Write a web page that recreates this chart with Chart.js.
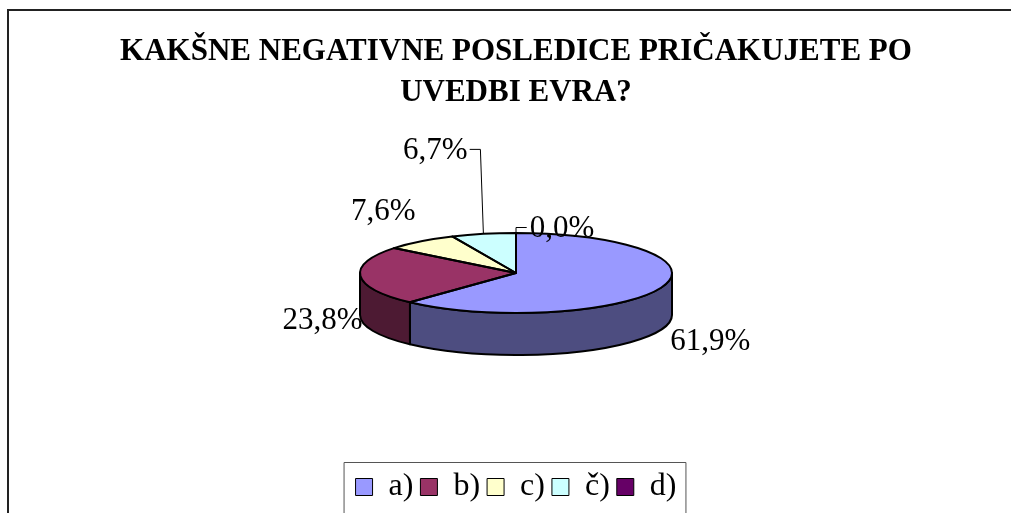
<!DOCTYPE html>
<html>
<head>
<meta charset="utf-8">
<script src="https://cdn.jsdelivr.net/npm/chart.js@4"></script>
<style>
  html, body { margin: 0; padding: 0; background: #fff; }
  canvas { display: block; }
</style>
</head>
<body>
<canvas id="myChart" width="1011" height="513"></canvas>
<script>
// Chart data
const titleLines = ['KAKŠNE NEGATIVNE POSLEDICE PRIČAKUJETE PO', 'UVEDBI EVRA?'];
const categories = ['a)', 'b)', 'c)', 'č)', 'd)'];
const shares = [61.9, 23.8, 7.6, 6.7, 0.0];
const topColors = ['#9999FF', '#993366', '#FFFFCC', '#CCFFFF', '#660066'];
const sideColors = ['#4D4D80', '#4D1A33', '#808066', '#668080', '#330033'];

const serif = '"Liberation Serif", "Times New Roman", serif';
const tilt = 40 / 156;   // vertical squash of the top face
const depth = 42;        // thickness of the pie

// label nudges from the slice's rim point, and which ones get a leader line
const labelShift = [[49, 54], [-38, 45], [-37, -30], [-48, -83], [46, -4]];
const withLeader = [false, false, false, true, true];

function fmt(v) {
  return v.toFixed(1).replace('.', ',') + '%';
}

function rimPoint(arc, angle) {
  return {
    x: arc.x + arc.outerRadius * Math.cos(angle),
    y: arc.y + arc.outerRadius * tilt * Math.sin(angle)
  };
}

// outer frame of the chart object
const framePlugin = {
  id: 'frame',
  beforeDraw(chart) {
    const ctx = chart.ctx;
    ctx.save();
    ctx.fillStyle = '#fff';
    ctx.fillRect(0, 0, chart.width, chart.height);
    ctx.strokeStyle = '#222';
    ctx.lineWidth = 2;
    ctx.beginPath();
    ctx.moveTo(8, chart.height + 2);
    ctx.lineTo(8, 10);
    ctx.lineTo(chart.width + 2, 10);
    ctx.stroke();
    ctx.restore();
  },
  afterDraw(chart) {
    // box round the legend
    const boxes = chart.legend.legendHitBoxes;
    if (!boxes || !boxes.length) return;
    const first = boxes[0], last = boxes[boxes.length - 1];
    const ctx = chart.ctx;
    ctx.save();
    ctx.strokeStyle = '#555';
    ctx.lineWidth = 1;
    ctx.beginPath();
    ctx.moveTo(first.left - 12 + 0.5, chart.height + 2);
    ctx.lineTo(first.left - 12 + 0.5, first.top - 9 + 0.5);
    ctx.lineTo(last.left + last.width + 9 + 0.5, first.top - 9 + 0.5);
    ctx.lineTo(last.left + last.width + 9 + 0.5, chart.height + 2);
    ctx.stroke();
    ctx.restore();
  }
};

// flattened 3D look: side walls, squashed top, outlines and labels
const pie3dPlugin = {
  id: 'pie3d',
  beforeDatasetsDraw(chart) {
    const ctx = chart.ctx;
    const arcs = chart.getDatasetMeta(0).data;
    ctx.save();
    ctx.strokeStyle = '#000';
    ctx.lineWidth = 2;
    ctx.lineJoin = 'round';
    arcs.forEach((arc, i) => {
      const s = arc.startAngle, e = arc.endAngle;
      if (e - s <= 0) return;
      const lo = Math.max(s, 0), hi = Math.min(e, Math.PI);
      if (hi <= lo) return;
      const r = arc.outerRadius;
      ctx.beginPath();
      ctx.ellipse(arc.x, arc.y, r, r * tilt, 0, lo, hi);
      ctx.ellipse(arc.x, arc.y + depth, r, r * tilt, 0, hi, lo, true);
      ctx.closePath();
      ctx.fillStyle = sideColors[i];
      ctx.fill();
      ctx.stroke();
    });
    ctx.restore();

    const a = arcs[0];
    ctx.save();
    ctx.translate(a.x, a.y);
    ctx.scale(1, tilt);
    ctx.translate(-a.x, -a.y);
  },
  afterDatasetsDraw(chart) {
    const ctx = chart.ctx;
    ctx.restore();
    const arcs = chart.getDatasetMeta(0).data;

    ctx.save();
    ctx.strokeStyle = '#000';
    ctx.lineWidth = 2;
    ctx.lineJoin = 'round';
    arcs.forEach((arc) => {
      if (arc.endAngle - arc.startAngle <= 0) return;
      const r = arc.outerRadius;
      ctx.beginPath();
      ctx.moveTo(arc.x, arc.y);
      ctx.ellipse(arc.x, arc.y, r, r * tilt, 0, arc.startAngle, arc.endAngle);
      ctx.closePath();
      ctx.stroke();
    });

    ctx.font = '31px ' + serif;
    ctx.fillStyle = '#000';
    ctx.textAlign = 'center';
    ctx.textBaseline = 'middle';
    ctx.lineWidth = 1;
    arcs.forEach((arc, i) => {
      const mid = (arc.startAngle + arc.endAngle) / 2;
      const p = rimPoint(arc, mid);
      const cx = p.x + labelShift[i][0];
      const cy = p.y + labelShift[i][1];
      const text = fmt(shares[i]);
      ctx.fillText(text, cx, cy);
      if (withLeader[i]) {
        const w = ctx.measureText(text).width;
        const left = cx < p.x;
        const edge = left ? cx + w / 2 + 2 : cx - w / 2 - 3;
        const ly = cy - 2;
        ctx.beginPath();
        ctx.moveTo(edge, ly + 0.5);
        ctx.lineTo(left ? p.x - 3 : p.x, ly + 0.5);
        ctx.lineTo(p.x, p.y);
        ctx.stroke();
      }
    });
    ctx.restore();
  }
};

const ctx = document.getElementById('myChart').getContext('2d');

new Chart(ctx, {
  type: 'pie',
  data: {
    labels: categories,
    datasets: [{
      data: shares,
      backgroundColor: topColors,
      borderWidth: 0,
      radius: 156
    }]
  },
  options: {
    responsive: false,
    animation: false,
    events: [],
    layout: { padding: { left: 21 } },
    plugins: {
      tooltip: { enabled: false },
      title: {
        display: true,
        text: titleLines,
        color: '#000',
        font: { family: serif, size: 31, weight: 'bold', lineHeight: 41 / 31 },
        padding: { top: 31, bottom: -31 }
      },
      legend: {
        position: 'bottom',
        labels: {
          color: '#000',
          font: { family: serif, size: 32 },
          boxWidth: 17,
          boxHeight: 17,
          padding: 7,
          generateLabels(chart) {
            const items = Chart.overrides.pie.plugins.legend.labels.generateLabels(chart);
            items.forEach(it => {
              it.strokeStyle = '#000';
              it.lineWidth = 1;
              it.hidden = false;
            });
            return items;
          }
        }
      }
    }
  },
  plugins: [framePlugin, pie3dPlugin]
});
</script>
</body>
</html>
